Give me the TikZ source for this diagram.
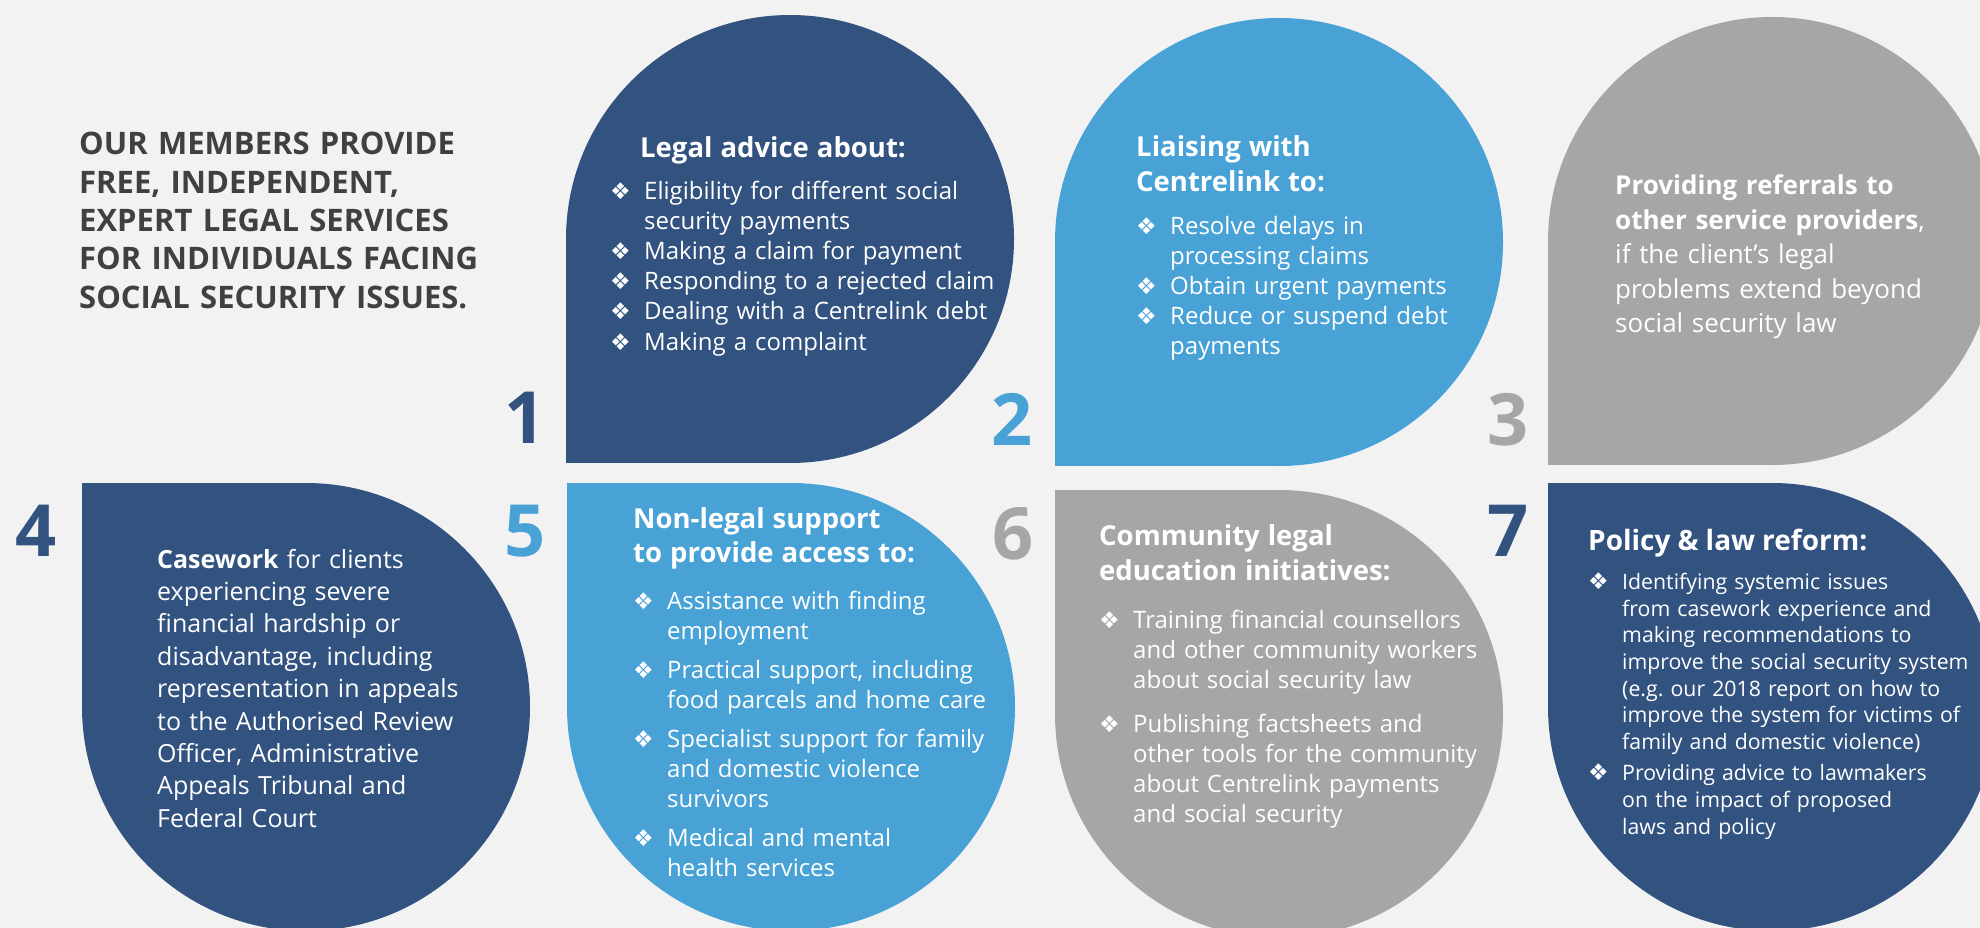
\documentclass[tikz,border=0pt]{standalone}
\usepackage{fontspec}
\setmainfont{Open Sans}
\newfontfamily\symfont{DejaVu Sans}
\frenchspacing
\definecolor{backgr}{HTML}{F2F2F2}
\definecolor{darkblue}{HTML}{325280}
\definecolor{lightblue}{HTML}{48A2D6}
\definecolor{midgrey}{HTML}{A6A6A6}
\definecolor{titlegrey}{HTML}{404040}
\newlength\bulind
\setlength\bulind{34pt}
\newcommand\bulsym{{\symfont\fontsize{23}{23}\selectfont ❖}}
\newcommand\itm[1]{\par\hangindent=\bulind\hangafter=1\noindent\makebox[\bulind][l]{\bulsym}#1\par}

\begin{document}
\begin{tikzpicture}[x=1pt,y=-1pt,
	darkdrop/.style={fill=darkblue},
	lightdrop/.style={fill=lightblue},
	greydrop/.style={fill=midgrey},
	num/.style={anchor=base east,inner sep=0pt,font=\bfseries\fontsize{72}{72}\selectfont},
	txt/.style={anchor=base west,inner sep=0pt,text=white,text width=420pt,align=left,
		execute at begin node={\setlength\parindent{0pt}\setlength\parskip{0pt}}}]
		\useasboundingbox (0,0) rectangle (1980,928);
		\fill[backgr] (0,0) rectangle (1980,928);
		\clip (0,0) rectangle (1980,928);
		
		% top row, square corner bottom left
		\fill[darkdrop] (790,239) circle[radius=224pt];
		\fill[darkdrop] (566,239) rectangle (790,463);
		\fill[lightdrop] (1279,242) circle[radius=224pt];
		\fill[lightdrop] (1055,242) rectangle (1279,466);
		\fill[greydrop] (1772,241) circle[radius=224pt];
		\fill[greydrop] (1548,241) rectangle (1772,465);
		
		% bottom row, square corner top left
		\fill[darkdrop] (306,707) circle[radius=224pt];
		\fill[darkdrop] (82,483) rectangle (306,707);
		\fill[lightdrop] (791,707) circle[radius=224pt];
		\fill[lightdrop] (567,483) rectangle (791,707);
		\fill[greydrop] (1279,714) circle[radius=224pt];
		\fill[greydrop] (1055,490) rectangle (1279,714);
		\fill[darkdrop] (1772,707) circle[radius=224pt];
		\fill[darkdrop] (1548,483) rectangle (1772,707);
		
		% numbers
		\node[num,text=darkblue] (n1) at (546,443) {1};
		\node[num,text=lightblue] (n2) at (1033,445) {2};
		\node[num,text=midgrey] (n3) at (1529,445) {3};
		\node[num,text=darkblue] (n4) at (57,556) {4};
		\node[num,text=lightblue] (n5) at (546,556) {5};
		\node[num,text=midgrey] (n6) at (1034,559) {6};
		\node[num,text=darkblue] (n7) at (1529,556) {7};
		
		% title
		\node[txt,text=titlegrey,text width=460pt,font=\bfseries\fontsize{31}{38.3}\selectfont] (title) at (79,155)
			{OUR MEMBERS PROVIDE\newline FREE, INDEPENDENT,\newline EXPERT LEGAL SERVICES\newline FOR INDIVIDUALS FACING\newline SOCIAL SECURITY ISSUES.};
		
		\node[txt,font=\fontsize{24}{30}\selectfont] (t1) at (610,158)
			{{\bfseries\fontsize{27.5}{35}\selectfont\hspace*{30pt}Legal advice about:\par}\vspace{12pt}
			\itm{Eligibility for different social\newline security payments}
			\itm{Making a claim for payment}
			\itm{Responding to a rejected claim}
			\itm{Dealing with a Centrelink debt}
			\itm{Making a complaint}};
		
		\node[txt,font=\fontsize{24}{30}\selectfont] (t2) at (1136,157)
			{{\bfseries\fontsize{27.5}{35}\selectfont Liaising with\newline Centrelink to:\par}\vspace{13pt}
			\itm{Resolve delays in\newline processing claims}
			\itm{Obtain urgent payments}
			\itm{Reduce or suspend debt\newline payments}};
		
		\node[txt,font=\fontsize{26}{34.5}\selectfont] (t3) at (1615,195)
			{{\bfseries Providing referrals to\newline other service providers},\newline if the client’s legal\newline problems extend beyond\newline social security law};
		
		\node[txt,font=\fontsize{25}{32.4}\selectfont] (t4) at (157,568)
			{{\bfseries Casework} for clients\newline experiencing severe\newline financial hardship or\newline disadvantage, including\newline representation in appeals\newline to the Authorised Review\newline Officer, Administrative\newline Appeals Tribunal and\newline Federal Court};
		
		\node[txt,font=\fontsize{24}{30}\selectfont] (t5) at (633,528)
			{{\bfseries\fontsize{27.5}{34}\selectfont Non-legal support\newline to provide access to:\par}\vspace{8pt}\setlength\parskip{9pt}
			\itm{Assistance with finding\newline employment}
			\itm{Practical support, including\newline food parcels and home care}
			\itm{Specialist support for family\newline and domestic violence\newline survivors}
			\itm{Medical and mental\newline health services}};
		
		\node[txt,font=\fontsize{24}{30}\selectfont] (t6) at (1099,545)
			{{\bfseries\fontsize{27.5}{35}\selectfont Community legal\newline education initiatives:\par}\vspace{4pt}\setlength\parskip{14pt}
			\itm{Training financial counsellors\newline and other community workers\newline about social security law}
			\itm{Publishing factsheets and\newline other tools for the community\newline about Centrelink payments\newline and social security}};
		
		\node[txt,font=\fontsize{21.3}{26.6}\selectfont] (t7) at (1588,550)
			{{\bfseries\fontsize{28}{34}\selectfont Policy \& law reform:\par}\vspace{8pt}\setlength\parskip{5pt}
			\itm{Identifying systemic issues\newline from casework experience and\newline making recommendations to\newline improve the social security system\newline (e.g. our 2018 report on how to\newline improve the system for victims of\newline family and domestic violence)}
			\itm{Providing advice to lawmakers\newline on the impact of proposed\newline laws and policy}};
		\end{tikzpicture}
\end{document}
